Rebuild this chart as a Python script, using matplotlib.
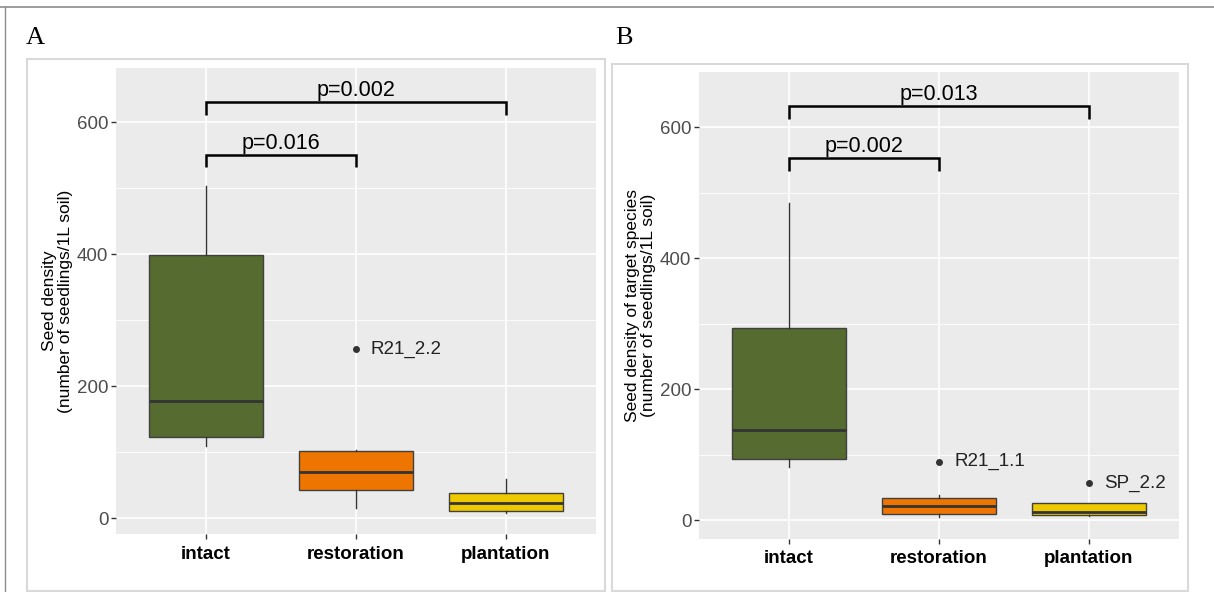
import matplotlib
matplotlib.use("Agg")
import matplotlib.pyplot as plt
from matplotlib.patches import Rectangle
from matplotlib.lines import Line2D

plt.rcParams['font.family'] = ['Liberation Sans', 'DejaVu Sans']

categories = ["intact", "restoration", "plantation"]
colors = ["#556B2F", "#EE7600", "#EEC900"]

# Panel A: whislo, q1, med, q3, whishi
A_whislo = [109, 15, 8]
A_q1 = [123, 42, 11]
A_med = [177, 70, 23]
A_q3 = [398, 101, 38]
A_whishi = [503, 104, 59]
A_outliers = [[], [256], []]
A_outlier_labels = [[], ["R21_2.2"], []]
A_pvals = ["p=0.016", "p=0.002"]
A_brackets = [(1, 2, 550, 532), (1, 3, 631, 611)]

# Panel B
B_whislo = [81, 4.5, 6]
B_q1 = [93, 9, 7.5]
B_med = [138, 21, 13]
B_q3 = [293, 34.5, 26]
B_whishi = [484, 39, 26]
B_outliers = [[], [89], [56.5]]
B_outlier_labels = [[], ["R21_1.1"], ["SP_2.2"]]
B_pvals = ["p=0.002", "p=0.013"]
B_brackets = [(1, 2, 553, 533), (1, 3, 632, 613)]

yticks = [0, 200, 400, 600]

fig = plt.figure(figsize=(12.14, 5.92), dpi=100)

# outer frame lines
fig.add_artist(Line2D([0, 1], [1 - 7/592, 1 - 7/592], color="#8c8c8c", lw=1.2, transform=fig.transFigure))
fig.add_artist(Line2D([5/1214, 5/1214], [0, 1 - 7/592], color="#8c8c8c", lw=1.0, transform=fig.transFigure))
# panel borders
fig.add_artist(Rectangle((27/1214, 1.5/592), (605-27)/1214, (590-58)/592, fill=False,
                         ec="#d9d9d9", lw=1.5, transform=fig.transFigure))
fig.add_artist(Rectangle((612/1214, 1.5/592), (1188-612)/1214, (590-63)/592, fill=False,
                         ec="#d9d9d9", lw=1.5, transform=fig.transFigure))

fig.text(26/1214, 1 - 38/592, "A", family="Liberation Serif", fontsize=19, va="center", ha="left")
fig.text(615/1214, 1 - 38/592, "B", family="Liberation Serif", fontsize=19, va="center", ha="left")


def draw_panel(rect, whislo, q1, med, q3, whishi, outliers, olabels, pvals, brackets, ylabel, ylim):
    ax = fig.add_axes(rect)
    ax.set_facecolor("#EBEBEB")
    for s in ax.spines.values():
        s.set_visible(False)
    ax.set_xlim(0.4, 3.6)
    ax.set_ylim(*ylim)
    for y in [100, 300, 500]:
        ax.axhline(y, color="white", lw=0.6, zorder=0)
    for y in yticks:
        ax.axhline(y, color="white", lw=1.2, zorder=0)
    for x in range(1, 4):
        ax.axvline(x, color="white", lw=1.2, zorder=0)
    stats = []
    for i in range(3):
        stats.append(dict(whislo=whislo[i], q1=q1[i], med=med[i], q3=q3[i],
                          whishi=whishi[i], fliers=outliers[i], label=categories[i]))
    bp = ax.bxp(stats, positions=[1, 2, 3], widths=0.76, patch_artist=True, showcaps=False,
                boxprops=dict(edgecolor="#404040", lw=1.0),
                medianprops=dict(color="#333333", lw=2.0),
                whiskerprops=dict(color="#333333", lw=1.0),
                flierprops=dict(marker="o", markersize=4, markerfacecolor="#333333",
                                markeredgecolor="#333333"))
    for patch, c in zip(bp["boxes"], colors):
        patch.set_facecolor(c)
    for i in range(3):
        for v, lab in zip(outliers[i], olabels[i]):
            ax.text(i + 1 + 0.1, v, lab, fontsize=13.5, va="center", ha="left", color="#222222")
    for (a, b, h, lo), p in zip(brackets, pvals):
        ax.plot([a, a, b, b], [lo, h, h, lo], color="black", lw=1.8, solid_capstyle="butt",
                solid_joinstyle="miter", zorder=5)
        ax.text((a + b) / 2, h + 1, p, fontsize=15.5, ha="center", va="bottom")
    ax.set_yticks(yticks)
    ax.set_yticklabels([str(t) for t in yticks], fontsize=13.5, color="#4d4d4d")
    ax.set_xticks([1, 2, 3])
    ax.set_xticklabels(categories, fontsize=13.5, fontweight="bold", color="black")
    ax.tick_params(axis="both", color="#333333", length=3.5, width=1)
    ax.tick_params(axis="y", pad=2)
    ax.tick_params(axis="x", pad=5)
    ax.set_ylabel(ylabel, fontsize=12.5, linespacing=1.05, labelpad=3)
    return ax


draw_panel([116/1214, (592-534)/592, 480/1214, 466/592],
           A_whislo, A_q1, A_med, A_q3, A_whishi, A_outliers, A_outlier_labels, A_pvals, A_brackets,
           "Seed density\n(number of seedlings/1L soil)", (-24, 682))
draw_panel([699/1214, (592-538.5)/592, 480/1214, 466.5/592],
           B_whislo, B_q1, B_med, B_q3, B_whishi, B_outliers, B_outlier_labels, B_pvals, B_brackets,
           "Seed density of target species\n(number of seedlings/1L soil)", (-28, 684))

fig.savefig("out.png", dpi=100, facecolor="white")
